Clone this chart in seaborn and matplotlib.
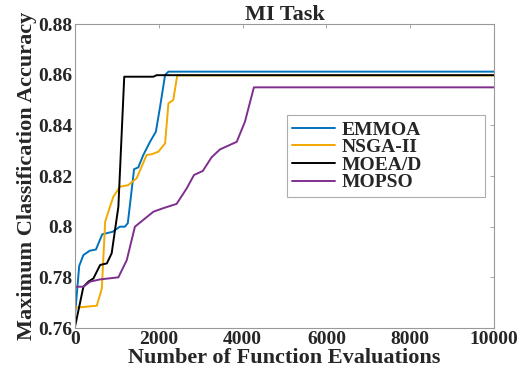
import pandas as pd
import seaborn as sns
import matplotlib
matplotlib.use("Agg")
import matplotlib.pyplot as plt

# curves (function evaluations, max accuracy)
emmoa_x = [0, 100, 200, 350, 500, 650, 900, 1070, 1190, 1260, 1410, 1510, 1630, 1790, 1930, 2030, 2150, 2230, 10000]
emmoa_y = [0.765, 0.7845, 0.7888, 0.7905, 0.791, 0.797, 0.798, 0.800, 0.800, 0.8014, 0.8227, 0.8234,
           0.8283, 0.8335, 0.8375, 0.8473, 0.8599, 0.8612, 0.8612]

nsga_x = [0, 520, 640, 720, 835, 915, 995, 1075, 1270, 1470, 1590, 1710, 1830, 1990, 2150, 2230, 2345, 2440, 10000]
nsga_y = [0.768, 0.7688, 0.7756, 0.802, 0.8079, 0.8118, 0.8138, 0.8158, 0.8164, 0.8191, 0.8237, 0.8283,
          0.8286, 0.8296, 0.8329, 0.8487, 0.850, 0.8597, 0.8597]

moead_x = [0, 200, 320, 440, 600, 760, 875, 955, 1035, 1175, 1870, 1950, 10000]
moead_y = [0.7605, 0.7763, 0.7783, 0.7796, 0.7849, 0.7855, 0.7895, 0.7987, 0.8079, 0.8592, 0.8592,
           0.8598, 0.8598]

mopso_x = [0, 200, 360, 600, 1035, 1235, 1430, 1870, 2105, 2425, 2665, 2840, 3050, 3260, 3460, 3860,
           4055, 4270, 10000]
mopso_y = [0.7763, 0.7763, 0.7783, 0.7792, 0.780, 0.7868, 0.800, 0.8059, 0.8073, 0.809, 0.8151, 0.8204,
           0.822, 0.8274, 0.8305, 0.8335, 0.8414, 0.855, 0.855]

methods = ["EMMOA", "NSGA-II", "MOEA/D", "MOPSO"]
colors = ["#0072BD", "#F2A900", "#000000", "#7E2F8E"]

frames = []
for name, xs, ys in zip(methods, [emmoa_x, nsga_x, moead_x, mopso_x], [emmoa_y, nsga_y, moead_y, mopso_y]):
    frames.append(pd.DataFrame({"evals": xs, "acc": ys, "method": name}))
df = pd.concat(frames, ignore_index=True)

sns.set_style("white")
plt.rcParams["font.family"] = ["Liberation Serif", "DejaVu Serif"]
plt.rcParams["font.weight"] = "bold"

fig = plt.figure(figsize=(5.29, 3.8), dpi=100)
ax = fig.add_axes([0.1418, 0.1368, 0.792, 0.80])

sns.lineplot(data=df, x="evals", y="acc", hue="method", hue_order=methods, palette=colors,
             estimator=None, sort=False, linewidth=1.4, ax=ax)

ax.set_xlim(0, 10000)
ax.set_ylim(0.76, 0.88)
ax.set_xticks([0, 2000, 4000, 6000, 8000, 10000])
ax.set_yticks([0.76, 0.78, 0.80, 0.82, 0.84, 0.86, 0.88])
ax.set_yticklabels(["0.76", "0.78", "0.8", "0.82", "0.84", "0.86", "0.88"])
ax.tick_params(direction="in", length=3, width=0.6, color="#999999", labelsize=14,
               top=True, right=True, pad=2)
for lab in ax.get_xticklabels() + ax.get_yticklabels():
    lab.set_fontweight("bold")
for s in ax.spines.values():
    s.set_color("#999999")
    s.set_linewidth(0.8)

ax.set_title("MI Task", fontsize=16, fontweight="bold", pad=3)
ax.set_xlabel("Number of Function Evaluations", fontsize=16, fontweight="bold", labelpad=0)
ax.set_ylabel("Maximum Classification Accuracy", fontsize=16, fontweight="bold", labelpad=1)

leg = ax.legend(loc="upper left", bbox_to_anchor=(0.505, 0.43, 0.473, 0.27), mode="expand",
                borderaxespad=0, fancybox=False,
                prop={"size": 14, "weight": "bold"}, handlelength=2.2, handletextpad=0.35,
                labelspacing=0.0, borderpad=0.3)
leg.get_frame().set_edgecolor("#999999")
leg.get_frame().set_linewidth(0.8)

fig.savefig("out.png", dpi=100)
